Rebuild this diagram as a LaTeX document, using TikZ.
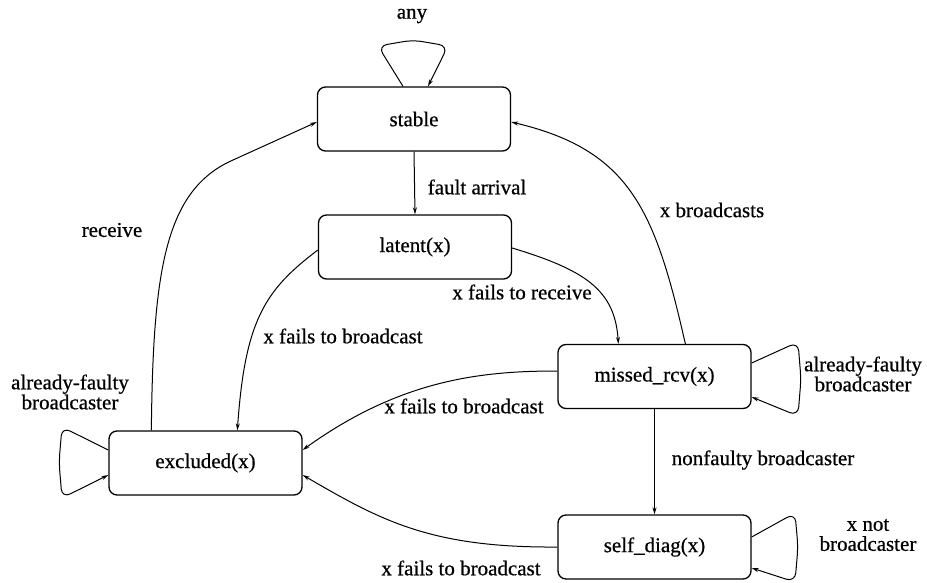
\documentclass[tikz,border=0pt]{standalone}
\usepackage{fontspec}
\setmainfont{Liberation Serif}[FakeBold=0.6]
\usetikzlibrary{arrows.meta,calc}
\begin{document}
\begin{tikzpicture}[x=1pt,y=-1pt,
  state/.style={draw, rounded corners=8pt, line width=1.3pt, minimum width=193pt, minimum height=64pt, inner sep=0pt, font=\fontsize{21}{20}\selectfont},
  lbl/.style={font=\fontsize{21}{20}\selectfont, inner sep=0pt, align=center},
  arr/.style={line width=1pt, -{Stealth[length=7pt,width=4pt]}},
  loopy/.style={arr, rounded corners=9pt}]
\useasboundingbox (0,0) rectangle (927,583);
% states
\node[state] (stable)   at (414,119)   {stable};
\node[state] (latent)   at (415,247)   {latent(x)};
\node[state] (missed)   at (654.5,376.5) {missed\_rcv(x)};
\node[state] (excluded) at (205.5,463) {excluded(x)};
\node[state] (selfdiag) at (654.5,547) {self\_diag(x)};
% labels
\node[lbl] (lany)    at (412,16)  {any};
\node[lbl] (lfault)  at (477,187) {fault arrival};
\node[lbl] (lrecv)   at (112,230) {receive};
\node[lbl] (lbcast)  at (712,210) {x broadcasts};
\node[lbl] (lfrecv)  at (522,292) {x fails to receive};
\node[lbl] (lfb1)    at (343,336) {x fails to broadcast};
\node[lbl] (lfb2)    at (464,406) {x fails to broadcast};
\node[lbl] (lfb3)    at (461,568) {x fails to broadcast};
\node[lbl] (lnonf)   at (763,460) {nonfaulty broadcaster};
\node[lbl] (laf1)    at (70,392)  {already-faulty\\broadcaster};
\node[lbl] (laf2)    at (863,374) {already-faulty\\broadcaster};
\node[lbl] (lnot)    at (868,535) {x not\\broadcaster};
% self loops
\draw[loopy] ($(stable.north)+(-11,0)$) -- (378,46) -- (413,40) -- (448,46) -- ($(stable.north)+(14,0)$);
\draw[loopy] ($(missed.east)+(0,-13.5)$) -- (798,342) -- (801,379) -- (798,416) -- ($(missed.east)+(0,20.5)$);
\draw[loopy] ($(excluded.west)+(0,-13)$) -- (62,427) -- (59,462) -- (62,498) -- ($(excluded.west)+(0,12)$);
\draw[loopy] ($(selfdiag.east)+(0,-10)$) -- (795,513) -- (798,547) -- (795,582) -- ($(selfdiag.east)+(0,21)$);
% transitions
\draw[arr] (stable.south) -- (latent.north);
\draw[arr] ($(excluded.north west)+(43,0)$) .. controls (153,270) and (165,190) .. (233,160) -- ($(stable.west)+(0,3)$);
\draw[arr] ($(latent.west)+(0,3)$) .. controls (265,290) and (245,320) .. ($(excluded.north west)+(129,0)$);
\draw[arr] ($(latent.east)+(0,1)$) .. controls (585,270) and (615,290) .. ($(missed.north west)+(61,0)$);
\draw[arr] ($(missed.north west)+(128,0)$) .. controls (655,210) and (630,150) .. ($(stable.east)+(0,3)$);
\draw[arr] ($(missed.west)+(0,-5.5)$) .. controls (480,371) and (400,380) .. ($(excluded.east)+(0,-13)$);
\draw[arr] (selfdiag.west) .. controls (430,548) and (380,520) .. ($(excluded.east)+(0,12)$);
\draw[arr] (missed.south) -- (selfdiag.north);
\end{tikzpicture}
\end{document}
